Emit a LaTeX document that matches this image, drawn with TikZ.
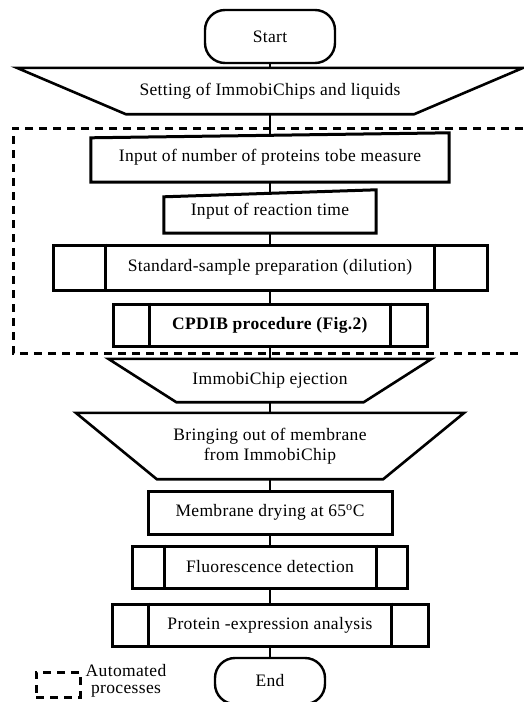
\documentclass[tikz,border=0pt]{standalone}
\usepackage{fontspec}
\setmainfont{Liberation Serif}[LetterSpace=2]
\usepackage{tikz}
\usetikzlibrary{positioning}

\begin{document}
\begin{tikzpicture}[x=1pt,y=-1pt,
  txt/.style={font=\fontsize{17.5}{17.5}\selectfont,inner sep=0pt,align=center},
  flat/.style={txt,rectangle},
  box/.style={txt,rectangle,draw,line width=3pt},
  term/.style={box,line width=2.4pt,rounded corners=20pt},
  side/.style={line width=3pt},
  trap/.style={line width=2.6pt,line join=miter},
  link/.style={line width=1.2pt},
  autobox/.style={line width=3pt,dash pattern=on 8pt off 6pt}]
\useasboundingbox (0,0) rectangle (523,702);

\draw (270,36.5) node[term,minimum width=130pt,minimum height=53pt] (start) {Start};

\draw (270,91) node[flat,minimum width=506pt,minimum height=46pt] (set) {Setting of ImmobiChips and liquids};
\draw[trap] (set.north west) -- (set.north east) -- ([xshift=-109pt]set.south east) -- ([xshift=109pt]set.south west) -- cycle;

\draw (270,157.5) node[flat,minimum width=358pt,minimum height=49pt] (num) {Input of number of proteins tobe measure};
\draw[side] ([yshift=-5pt]num.north west) -- (num.south west) -- (num.south east) -- (num.north east) -- cycle;

\draw (270,211.5) node[flat,minimum width=212pt,minimum height=43pt] (rtime) {Input of reaction time};
\draw[side] ([yshift=-7pt]rtime.north west) -- (rtime.south west) -- (rtime.south east) -- (rtime.north east) -- cycle;

\draw (270,267.5) node[box,minimum width=434pt,minimum height=45pt] (std) {Standard-sample preparation (dilution)};
\draw (270,325) node[box,minimum width=314pt,minimum height=42pt] (cpdib) {\textbf{CPDIB procedure (Fig.2)}};

\draw (270,380.5) node[flat,minimum width=323pt,minimum height=43pt] (eject) {ImmobiChip ejection};
\draw[trap] (eject.north west) -- (eject.north east) -- ([xshift=-68pt]eject.south east) -- ([xshift=68pt]eject.south west) -- cycle;

\draw (270,446) node[flat,minimum width=388pt,minimum height=66pt] (bring) {Bringing out of membrane\\[2.5pt]from ImmobiChip};
\draw[trap] (bring.north west) -- (bring.north east) -- ([xshift=-81pt]bring.south east) -- ([xshift=81pt]bring.south west) -- cycle;

\draw (270,512.5) node[box,minimum width=244pt,minimum height=43pt] (dry) {Membrane drying at 65\textsuperscript{o}C};
\draw (270,567) node[box,minimum width=275pt,minimum height=42pt] (fluo) {Fluorescence detection};
\draw (270,625) node[box,minimum width=316pt,minimum height=42pt] (expr) {Protein -expression analysis};
\draw (270,681) node[term,minimum width=110pt,minimum height=46pt] (end) {End};

\foreach \n/\d in {std/54,cpdib/38,fluo/33,expr/38} {
  \draw[side] ([xshift=\d pt]\n.north west) -- ([xshift=\d pt]\n.south west);
  \draw[side] ([xshift=-\d pt]\n.north east) -- ([xshift=-\d pt]\n.south east);
}

\path[draw,link] (start) -- (set);
\path[draw,link] (set.south) -- ([yshift=-2.5pt]num.north);
\path[draw,link] (num) -- ([yshift=-3.5pt]rtime.north);
\path[draw,link] (rtime) -- (std);
\path[draw,link] (std) -- (cpdib);
\path[draw,link] (cpdib) -- (eject.north);
\path[draw,link] (eject.south) -- (bring.north);
\path[draw,link] (bring.south) -- (dry);
\path[draw,link] (dry) -- (fluo);
\path[draw,link] (fluo) -- (expr);
\path[draw,link] (expr) -- (end);

\coordinate (atl) at (13,128);
\coordinate (abl) at (13,353);
\draw[autobox] (523,128) -- (atl) -- (abl) -- (523,353);

\draw (58,684.5) node[rectangle,draw,autobox,dash pattern=on 8pt off 6pt,minimum width=44pt,minimum height=25pt,inner sep=0pt] (key) {};
\draw (126,681) node[txt] (keytxt) {Automated\\processes};
\end{tikzpicture}
\end{document}
